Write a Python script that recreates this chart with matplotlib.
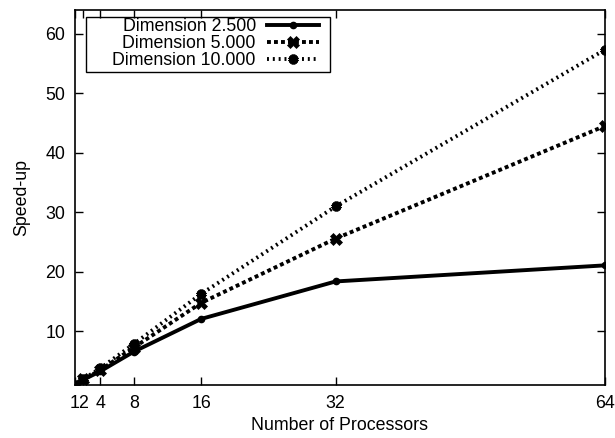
import matplotlib.pyplot as plt
from matplotlib.patches import Rectangle

plt.rcParams['font.family'] = ['Liberation Sans', 'DejaVu Sans']
plt.rcParams['font.size'] = 12.8

# speed-up measured for three problem sizes
procs = [1, 2, 4, 8, 16, 32, 64]
dim_2500 = [1.0, 1.9, 3.3, 6.6, 12.1, 18.4, 21.1]
dim_5000 = [1.0, 1.95, 3.5, 7.3, 14.8, 25.6, 44.5]
dim_10000 = [1.0, 2.0, 3.8, 7.9, 16.3, 31.0, 57.3]

fig = plt.figure(figsize=(6.15, 4.38), dpi=100)
ax = fig.add_axes([0.122, 0.121, 0.861, 0.856])

lw = 2.8
ax.plot(procs, dim_2500, color='black', lw=lw, marker='o', ms=4.5,
        label='Dimension 2.500')
ax.plot(procs, dim_5000, color='black', lw=lw, dashes=(1.0, 0.8),
        marker='X', ms=8, mew=0.5, label='Dimension 5.000')
ax.plot(procs, dim_10000, color='black', lw=lw, dashes=(0.5, 1.0),
        marker=(6, 2, 0), ms=7, mew=2.8, label='Dimension 10.000')

ax.set_xlim(1, 64)
ax.set_ylim(1, 64)
ax.set_xticks(procs)
ax.set_xticklabels(['1', '2', '4', '8', '16', '32', '64'])
ax.set_yticks([10, 20, 30, 40, 50, 60])
ax.tick_params(direction='in', length=6, width=1, top=True, right=True)
ax.tick_params(axis='x', pad=7)
ax.tick_params(axis='y', pad=7)
for s in ax.spines.values():
    s.set_linewidth(1.2)

ax.set_xlabel('Number of Processors', labelpad=4)
ax.set_ylabel('Speed-up', labelpad=11)

# gnuplot style key: text right aligned, sample on the right, wide box
leg = ax.legend(loc='upper right', markerfirst=False, frameon=False,
                borderpad=0.0, labelspacing=0.0, handlelength=2.9,
                handletextpad=0.65, borderaxespad=0.0,
                bbox_to_anchor=(0.4607, 0.978))
for t in leg.get_texts():
    t.set_ha('right')
leg._legend_box.align = 'right'
ax.add_patch(Rectangle((0.0208, 0.835), 0.4604, 0.146, transform=ax.transAxes,
                       fill=False, edgecolor='black', lw=1.0, zorder=5))

fig.savefig('out.png', dpi=100)
